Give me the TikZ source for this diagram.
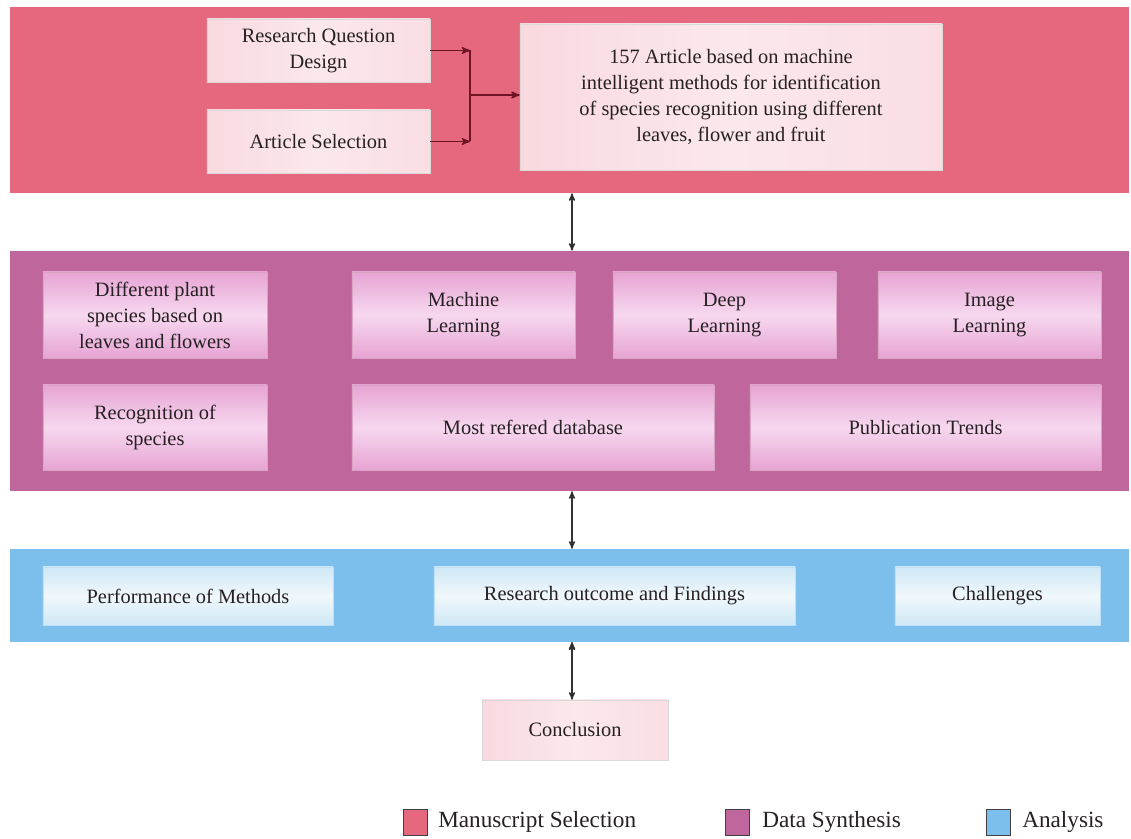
\documentclass[tikz,border=0pt]{standalone}
\usepackage{fontspec}
\setmainfont{Liberation Serif}
\usetikzlibrary{arrows}

\definecolor{selred}{HTML}{E6687F}
\definecolor{synpurple}{HTML}{BF669C}
\definecolor{anablue}{HTML}{7DBFEC}
\definecolor{synlight}{HTML}{E6A4D4}
\definecolor{synpale}{HTML}{F7D8EF}
\definecolor{analight}{HTML}{CFE8F6}
\definecolor{anapale}{HTML}{F0F8FC}
\definecolor{arrowred}{HTML}{6E1424}
\definecolor{inktext}{HTML}{262022}

\begin{document}
\begin{tikzpicture}[x=0.025cm,y=-0.025cm,>=stealth',
  band/.style={minimum width=27.975cm,inner sep=0pt},
  box/.style={align=center,inner sep=2pt,text=inktext,
    font=\fontsize{14.5}{18.5}\selectfont},
  redbox/.style={box,draw=black!15,left color=selred!25,
    right color=selred!22,middle color=white!85!selred},
  purplebox/.style={box,draw=synpurple!60!white,shading angle=200,
    top color=synlight,bottom color=synlight,middle color=synpale},
  bluebox/.style={box,draw=anablue!50!white,shading angle=200,
    top color=analight,bottom color=analight,middle color=anapale},
  legbox/.style={draw=black!75,line width=0.7pt,minimum width=0.6cm,
    minimum height=0.65cm,inner sep=0pt},
  legtext/.style={anchor=west,inner sep=0pt,text=inktext,
    font=\fontsize{16.5}{19}\selectfont}]
  \useasboundingbox (0,0) rectangle (1131,839);
  % the three bands
  \node[band,fill=selred,minimum height=4.65cm]    (selband) at (569.5,100)   {};
  \node[band,fill=synpurple,minimum height=6cm]    (synband) at (569.5,371)   {};
  \node[band,fill=anablue,minimum height=2.325cm]  (anaband) at (569.5,595.5) {};
  % manuscript selection
  \node[redbox,minimum width=5.575cm,minimum height=1.575cm] (rqd) at (318.5,50.5)
    {Research Question\\Design};
  \node[redbox,minimum width=5.575cm,minimum height=1.575cm] (artsel) at (318.5,141.5)
    {Article Selection};
  \node[redbox,minimum width=10.55cm,minimum height=3.65cm] (article) at (731,97)
    {157 Article based on machine\\intelligent methods for identification\\of species recognition using different\\leaves, flower and fruit};
  \coordinate (join) at (470,95);
  % data synthesis
  \node[purplebox,minimum width=5.6cm,minimum height=2.15cm]   (plants) at (155,315)
    {Different plant\\species based on\\leaves and flowers};
  \node[purplebox,minimum width=5.575cm,minimum height=2.15cm] (ml) at (463.5,315)
    {Machine\\Learning};
  \node[purplebox,minimum width=5.575cm,minimum height=2.15cm] (dl) at (724.5,315)
    {Deep\\Learning};
  \node[purplebox,minimum width=5.575cm,minimum height=2.15cm] (il) at (989.5,315)
    {Image\\Learning};
  \node[purplebox,minimum width=5.6cm,minimum height=2.125cm]  (recog) at (155,427.5)
    {Recognition of\\species};
  \node[purplebox,minimum width=9.05cm,minimum height=2.125cm] (db) at (533,427.5)
    {Most refered database};
  \node[purplebox,minimum width=8.775cm,minimum height=2.125cm] (trends) at (925.5,427.5)
    {Publication Trends};
  % analysis
  \node[bluebox,minimum width=7.25cm,minimum height=1.45cm]  (perf) at (188,596)
    {Performance of Methods};
  \node[bluebox,minimum width=9.025cm,minimum height=1.45cm] (outcome) at (614.5,596)
    {Research outcome and Findings};
  \node[bluebox,minimum width=5.125cm,minimum height=1.45cm] (chall) at (997.5,596)
    {Challenges};
  \node[redbox,minimum width=4.65cm,minimum height=1.5cm] (concl) at (575,730)
    {Conclusion};
  % legend
  \node[legbox,fill=selred]    (legsel) at (415.5,822) {};
  \node[legtext] (legseltext) at (438,822) {Manuscript Selection};
  \node[legbox,fill=synpurple] (legsyn) at (737.5,822) {};
  \node[legtext] (legsyntext) at (762,822) {Data Synthesis};
  \node[legbox,fill=anablue]   (legana) at (998.5,822) {};
  \node[legtext] (taganatext) at (1022,822) {Analysis};
  % connectors
  \draw[->,arrowred,line width=1.1pt] (rqd.east) -- (rqd.east -| join);
  \draw[->,arrowred,line width=1.1pt] (artsel.east) -- (artsel.east -| join);
  \draw[arrowred,line width=1.1pt] (rqd.east -| join) -- (artsel.east -| join);
  \draw[->,arrowred,line width=1.1pt] (join) -- (article.west |- join);
  \path[<->,draw=black!80,line width=0.9pt]
    (selband.south -| 572,0) edge (synband.north -| 572,0)
    (synband.south -| 572,0) edge (anaband.north -| 572,0)
    (anaband.south -| 572,0) edge (concl.north -| 572,0);
\end{tikzpicture}
\end{document}
